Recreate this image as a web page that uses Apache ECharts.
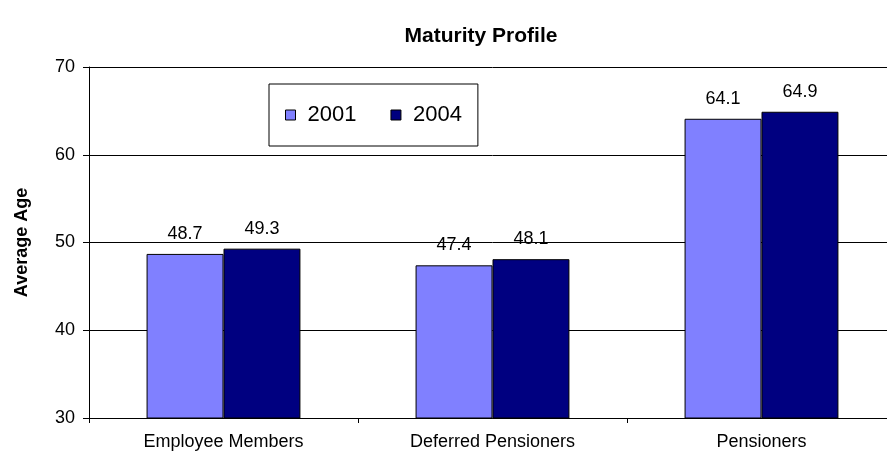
<!DOCTYPE html>
<html>
<head>
<meta charset="utf-8">
<title>Maturity Profile</title>
<script src="https://cdn.jsdelivr.net/npm/echarts@6/dist/echarts.min.js"></script>
<style>
  html, body { margin: 0; padding: 0; background: #fff; overflow: hidden; }
  /* the plot runs slightly past the right edge of the window */
  #chart { width: 900px; height: 456px; }
</style>
</head>
<body>
<div id="chart"></div>
<script>
// Member groups along the x axis
const categories = ['Employee Members', 'Deferred Pensioners', 'Pensioners'];
// Average age per group, by valuation year
const years = ['2001', '2004'];
const avgAge2001 = [48.7, 47.4, 64.1];
const avgAge2004 = [49.3, 48.1, 64.9];
// Value axis range
const yMin = 30;
const yMax = 70;
const yStep = 10;

const FONT = '"Liberation Sans", Arial, sans-serif';

const chart = echarts.init(document.getElementById('chart'), null, { renderer: 'canvas' });

function barSeries(name, values, color) {
  return {
    name: name,
    type: 'bar',
    data: values,
    barGap: '0%',
    barCategoryGap: '42.8%',
    itemStyle: { color: color, borderColor: '#000', borderWidth: 1 },
    label: {
      show: true,
      position: 'top',
      distance: 11,
      color: '#000',
      fontFamily: FONT,
      fontSize: 18,
      formatter: p => p.value.toFixed(1)
    }
  };
}

chart.setOption({
  animation: false,
  backgroundColor: '#fff',
  title: {
    text: 'Maturity Profile',
    left: 476,
    textAlign: 'center',
    top: 21,
    textStyle: { fontFamily: FONT, fontSize: 21, fontWeight: 'bold', color: '#000' }
  },
  legend: {
    data: years,
    left: 269,
    top: 84,
    orient: 'horizontal',
    backgroundColor: '#fff',
    borderColor: '#000',
    borderWidth: 1,
    padding: [20, 16, 20, 16],
    itemGap: 34,
    itemWidth: 10,
    itemHeight: 10,
    icon: 'rect',
    itemStyle: { borderColor: '#000', borderWidth: 1 },
    textStyle: { fontFamily: FONT, fontSize: 22, color: '#000', padding: [0, 0, 0, 7] }
  },
  grid: { left: 89, top: 67, width: 807, height: 351, containLabel: false },
  xAxis: {
    type: 'category',
    data: categories,
    axisLine: { lineStyle: { color: '#000', width: 1 } },
    axisTick: { show: true, length: 5, lineStyle: { color: '#000' } },
    axisLabel: { margin: 15, color: '#000', fontFamily: FONT, fontSize: 18 },
    splitLine: { show: false }
  },
  yAxis: {
    type: 'value',
    min: yMin,
    max: yMax,
    interval: yStep,
    name: 'Average Age',
    nameLocation: 'middle',
    nameRotate: 90,
    nameGap: 58,
    nameTextStyle: { fontFamily: FONT, fontSize: 18, fontWeight: 'bold', color: '#000' },
    axisLine: { show: true, lineStyle: { color: '#000', width: 1 } },
    axisTick: { show: true, length: 6, lineStyle: { color: '#000' } },
    axisLabel: { margin: 14, color: '#000', fontFamily: FONT, fontSize: 18 },
    splitLine: { show: true, lineStyle: { color: '#000', width: 1 } }
  },
  series: [
    barSeries(years[0], avgAge2001, '#8080FF'),
    barSeries(years[1], avgAge2004, '#000080')
  ]
});
</script>
</body>
</html>
